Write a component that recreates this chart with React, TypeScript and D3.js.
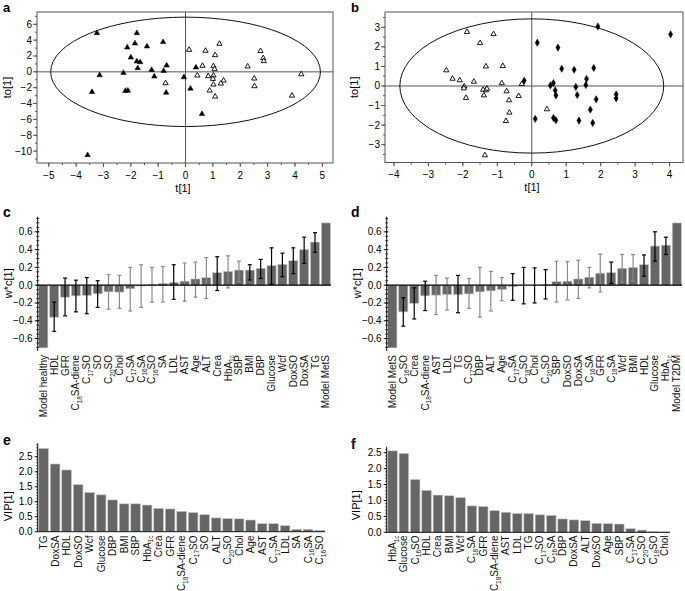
import React from "react";
import * as d3 from "d3";

const FONT = "'Liberation Sans', Arial, Helvetica, sans-serif";

// ---------- Panel a: OPLS-DA scores (MetS vs healthy) ----------
const aFilledPts: [number, number][] = [
  [-3.24, 4.89], [-1.78, 4.89], [-1.85, 3.59], [-2.13, 3.08], [-0.82, 3.76], [-1.41, 3.21],
  [-2.0, 1.81], [-1.78, 1.31], [-1.66, 1.22], [-1.75, 0.46], [-1.24, 0.25], [-0.8, 0.13],
  [-0.69, 0.8], [-2.27, -0.13], [-3.14, -0.42], [-1.14, -0.59], [-0.06, -0.68], [0.38, 0.55],
  [-3.42, -2.53], [-2.2, -2.41], [-2.11, -2.36], [-0.71, -2.62], [0.18, -2.11], [0.6, -5.32],
  [-3.58, -10.5],
];
const aOpenPts: [number, number][] = [
  [0.13, 2.78], [0.73, 2.66], [1.24, 3.54], [1.08, 2.11], [0.62, 0.76], [1.02, 0.72],
  [1.06, 0.34], [0.43, -0.46], [0.83, -0.55], [1.02, -0.46], [1.0, -0.89], [1.39, -1.1],
  [1.29, -1.48], [1.02, -1.6], [0.88, -2.36], [1.08, -3.12], [-0.73, -1.43], [2.27, 0.68],
  [2.74, 2.62], [2.84, 1.73], [2.86, 1.35], [2.51, -0.84], [2.52, -1.81], [3.89, -3.0],
  [4.23, -0.3],
];
const aEllipse = [4.93, 6.9];
const aXTicks = [-5, -4, -3, -2, -1, 0, 1, 2, 3, 4, 5];
const aYTicks = [-10, -8, -6, -4, -2, 0, 2, 4, 6];

// ---------- Panel b: OPLS-DA scores (T2DM vs MetS) ----------
const bDiamondPts: [number, number][] = [
  [1.92, 3.04], [4.03, 2.64], [0.16, 2.21], [0.76, 1.96], [0.87, 0.88], [1.23, 0.83],
  [1.8, 0.92], [1.59, 0.36], [1.57, 0.05], [1.28, -0.05], [0.63, 0.15], [0.54, 0.03],
  [0.68, -0.22], [0.7, -0.48], [1.32, -0.46], [1.87, -0.68], [2.45, -0.43], [2.45, -0.63],
  [1.7, -1.21], [0.1, -1.68], [0.63, -1.63], [0.7, -1.75], [1.37, -1.77], [1.77, -1.89],
  [-0.22, 0.27],
];
const bOpenPts: [number, number][] = [
  [-1.88, 2.76], [-1.11, 2.65], [-1.5, 2.19], [-2.48, 0.8], [-2.3, 0.37], [-2.09, 0.29],
  [-1.68, 0.22], [-1.96, -0.02], [-1.97, -0.12], [-1.91, -0.61], [-1.33, 1.0], [-0.84, 1.02],
  [-0.87, 0.14], [-1.41, -0.19], [-1.33, -0.22], [-1.3, -0.14], [-1.39, -0.48], [-0.73, -0.27],
  [-0.66, -0.73], [-0.38, -0.51], [-0.29, 0.1], [-0.65, -1.36], [-0.75, -1.79], [0.44, -1.19],
  [-1.36, -3.54],
];
const bEllipse = [3.83, 3.43];
const bXTicks = [-4, -3, -2, -1, 0, 1, 2, 3, 4];
const bYTicks = [-3, -2, -1, 0, 1, 2, 3];

// ---------- Panel c: loadings w*c[1] ----------
const cLabels = [
  "Model healthy", "HDL", "GFR", "C{18}SA-diene", "C{17}SO", "SO", "C{20}SO", "Chol", "C{17}SA",
  "C{16}SA", "C{16}SO", "SA", "LDL", "AST", "Age", "ALT", "Crea", "HbA{1c}", "SBP", "BMI", "DBP",
  "Glucose", "Wcf", "DoxSO", "DoxSA", "TG", "Model MetS",
];
const cValues = [
  -0.705, -0.36, -0.135, -0.12, -0.115, -0.097, -0.075, -0.078, -0.04, -0.01, 0.01, 0.02, 0.03,
  0.045, 0.07, 0.085, 0.14, 0.155, 0.17, 0.17, 0.19, 0.22, 0.235, 0.275, 0.4, 0.485, 0.7,
];
const cErrHigh = [
  NaN, -0.19, 0.08, 0.056, 0.086, 0.05, 0.12, 0.11, 0.2, 0.23, 0.2, 0.21, 0.23, 0.25, 0.26,
  0.31, 0.32, 0.33, 0.27, 0.23, 0.29, 0.42, 0.36, 0.42, 0.54, 0.59, NaN,
];
const cErrLow = [
  NaN, -0.52, -0.345, -0.3, -0.32, -0.25, -0.27, -0.26, -0.29, -0.25, -0.19, -0.19, -0.16,
  -0.18, -0.135, -0.15, -0.06, -0.03, 0.04, 0.06, 0.075, 0.01, 0.095, 0.13, 0.245, 0.37, NaN,
];
const cErrDark = [0, 1, 1, 1, 1, 1, 0, 0, 0, 0, 0, 0, 1, 0, 0, 0, 1, 0, 0, 1, 1, 1, 1, 1, 1, 1, 0];

// ---------- Panel d: loadings w*c[1] ----------
const dLabels = [
  "Model MetS", "C{16}SO", "Crea", "C{18}SA-diene", "AST", "LDL", "TG", "C{17}SO", "DBP", "ALT",
  "Age", "C{17}SA", "C{18}SO", "Chol", "C{20}SO", "SBP", "DoxSO", "DoxSA", "C{16}SA", "GFR",
  "C{18}SA", "Wcf", "BMI", "HDL", "Glucose", "HbA{1c}", "Model T2DM",
];
const dValues = [
  -0.705, -0.3, -0.205, -0.12, -0.112, -0.105, -0.105, -0.098, -0.075, -0.064, -0.049, -0.015,
  0.0, 0.0, 0.008, 0.04, 0.045, 0.07, 0.09, 0.135, 0.14, 0.19, 0.2, 0.23, 0.44, 0.45, 0.7,
];
const dErrHigh = [
  NaN, -0.14, -0.03, 0.045, 0.11, 0.08, 0.11, 0.075, 0.2, 0.155, 0.085, 0.13, 0.2, 0.195, 0.175,
  0.27, 0.265, 0.28, 0.2, 0.35, 0.26, 0.345, 0.345, 0.34, 0.6, 0.54, NaN,
];
const dErrLow = [
  NaN, -0.46, -0.38, -0.285, -0.33, -0.28, -0.31, -0.26, -0.36, -0.29, -0.175, -0.17, -0.21,
  -0.2, -0.155, -0.19, -0.165, -0.15, -0.03, -0.075, 0.02, 0.03, 0.045, 0.1, 0.27, 0.345, NaN,
];
const dErrDark = [0, 1, 1, 1, 0, 0, 1, 0, 0, 0, 0, 1, 1, 1, 1, 0, 0, 0, 0, 0, 1, 0, 0, 1, 1, 1, 0];

const wcTicks = [-0.6, -0.4, -0.2, 0.0, 0.2, 0.4, 0.6];

// ---------- Panel e: VIP ----------
const eLabels = [
  "TG", "DoxSA", "HDL", "DoxSO", "Wcf", "Glucose", "DBP", "BMI", "SBP", "HbA{1c}", "Crea", "GFR",
  "C{18}SA-diene", "C{17}SO", "SO", "ALT", "C{20}SO", "Chol", "Age", "AST", "C{17}SA", "LDL", "SA",
  "C{16}SA", "C{16}SO",
];
const eValues = [
  2.78, 2.26, 2.06, 1.57, 1.31, 1.23, 1.06, 0.93, 0.93, 0.89, 0.78, 0.76, 0.68, 0.64, 0.57, 0.46,
  0.44, 0.43, 0.39, 0.27, 0.27, 0.2, 0.08, 0.08, 0.045,
];

// ---------- Panel f: VIP ----------
const fLabels = [
  "HbA{1c}", "Glucose", "C{16}SO", "HDL", "Crea", "BMI", "Wcf", "C{18}SA", "GFR", "C{18}SA-diene",
  "AST", "LDL", "TG", "C{17}SO", "C{16}SA", "DBP", "DoxSA", "ALT", "DoxSO", "Age", "SBP", "C{17}SA",
  "C{20}SO", "C{18}SO", "Chol",
];
const fValues = [
  2.56, 2.48, 1.66, 1.32, 1.17, 1.15, 1.09, 0.83, 0.81, 0.68, 0.63, 0.59, 0.59, 0.55, 0.53, 0.42,
  0.39, 0.37, 0.28, 0.27, 0.26, 0.115, 0.07, 0.02, 0.01,
];
const vipTicks = [0, 0.5, 1.0, 1.5, 2.0, 2.5];

// ---------- helpers ----------
const MINUS = "\u2212";
const fmtInt = (v: number) => (v < 0 ? MINUS + Math.abs(v) : String(v));
const fmt1 = (v: number) => {
  const s = Math.abs(v).toFixed(1);
  return v < -1e-9 ? MINUS + s : s;
};

function parseLabel(s: string) {
  const out: { t: string; sub: boolean }[] = [];
  s.split(/(\{[^}]+\})/).forEach((p) => {
    if (!p) return;
    if (p.startsWith("{")) out.push({ t: p.slice(1, -1), sub: true });
    else out.push({ t: p, sub: false });
  });
  return out;
}

function RotLabel({ text, x, y }: { text: string; x: number; y: number }) {
  const segs = parseLabel(text);
  const nodes: React.ReactNode[] = [];
  let shifted = false;
  segs.forEach((s, i) => {
    const first = i === 0;
    if (s.sub) {
      nodes.push(
        <tspan key={i} fontSize={6.5} dy={first ? "0.35em" : 2.5}>
          {s.t}
        </tspan>
      );
      shifted = true;
    } else {
      nodes.push(
        <tspan key={i} dy={first ? "0.35em" : shifted ? -2.5 : undefined}>
          {s.t}
        </tspan>
      );
      shifted = false;
    }
  });
  return (
    <text
      transform={`translate(${x},${y}) rotate(-90)`}
      textAnchor="end"
      fontSize={10}
      fill="#111"
    >
      {nodes}
    </text>
  );
}

function range(a: number, b: number, step: number) {
  const r: number[] = [];
  for (let v = a; v <= b + 1e-9; v += step) r.push(Math.round(v * 1000) / 1000);
  return r;
}

// ---------- Scatter panel ----------
type ScatterProps = {
  x0: number; x1: number; y0: number; y1: number;
  xDom: [number, number]; yDom: [number, number];
  xTicks: number[]; yTicks: number[]; xMinor: number[]; yMinor: number[];
  ellipse: number[];
  series: { pts: [number, number][]; type: "triTri" | "triOpen" | "diamond" }[];
  letter: string; letterX: number; ylabX: number;
};

function ScatterPanel(p: ScatterProps) {
  const x = d3.scaleLinear().domain(p.xDom).range([p.x0, p.x1]);
  const y = d3.scaleLinear().domain(p.yDom).range([p.y1, p.y0]);
  const tri = d3.symbol().type(d3.symbolTriangle).size(13)()!;
  const triO = d3.symbol().type(d3.symbolTriangle).size(12)()!;
  const dia = d3.symbol().type(d3.symbolDiamond).size(15)()!;
  return (
    <g>
      <text x={p.letterX} y={12} fontSize={13} fontWeight="bold">{p.letter}</text>
      <rect x={p.x0} y={p.y0} width={p.x1 - p.x0} height={p.y1 - p.y0} fill="none" stroke="#555" strokeWidth={1} />
      {p.yMinor.map((v) => (
        <line key={"ym" + v} x1={p.x0 - 2} x2={p.x0} y1={y(v)} y2={y(v)} stroke="#555" />
      ))}
      {p.yTicks.map((v) => (
        <g key={"y" + v}>
          <line x1={p.x0 - 4} x2={p.x0} y1={y(v)} y2={y(v)} stroke="#555" />
          <text x={p.x0 - 5} y={y(v)} dy="0.35em" textAnchor="end" fontSize={10}>{fmtInt(v)}</text>
        </g>
      ))}
      {p.xMinor.map((v) => (
        <line key={"xm" + v} x1={x(v)} x2={x(v)} y1={p.y1} y2={p.y1 + 2} stroke="#555" />
      ))}
      {p.xTicks.map((v) => (
        <g key={"x" + v}>
          <line x1={x(v)} x2={x(v)} y1={p.y1} y2={p.y1 + 4} stroke="#555" />
          <text x={x(v)} y={p.y1 + 12} dy="0.35em" textAnchor="middle" fontSize={10}>{fmtInt(v)}</text>
        </g>
      ))}
      <text x={(p.x0 + p.x1) / 2 - 2} y={p.y1 + 25} dy="0.35em" textAnchor="middle" fontSize={11}>t[1]</text>
      <text transform={`translate(${p.ylabX},${(p.y0 + p.y1) / 2}) rotate(-90)`} textAnchor="middle" dy="0.35em" fontSize={11}>to[1]</text>
      <line x1={p.x0} x2={p.x1} y1={y(0)} y2={y(0)} stroke="#555" />
      <line x1={x(0)} x2={x(0)} y1={p.y0} y2={p.y1} stroke="#555" />
      <ellipse
        cx={x(0)} cy={y(0)}
        rx={x(p.ellipse[0]) - x(0)} ry={y(0) - y(p.ellipse[1])}
        fill="none" stroke="#111" strokeWidth={1}
      />
      {p.series.map((s, si) => (
        <g key={si}>
          {s.pts.map((pt, i) => (
            <path
              key={i}
              transform={`translate(${x(pt[0])},${y(pt[1])})`}
              d={s.type === "diamond" ? dia : s.type === "triTri" ? tri : triO}
              fill={s.type === "triOpen" ? "#fff" : "#000"}
              stroke="#000"
              strokeWidth={s.type === "triOpen" ? 0.9 : 0.5}
            />
          ))}
        </g>
      ))}
    </g>
  );
}

// ---------- Loadings bar panel ----------
type LoadProps = {
  axisX: number; xEnd: number; yTop: number; yBot: number; yDom: [number, number];
  labels: string[]; values: number[]; errLow: number[]; errHigh: number[]; errDark: number[];
  letter: string; letterX: number; ylabX: number; labelY: number;
};

function LoadingPanel(p: LoadProps) {
  const keys = p.labels.map((l, i) => i + ":" + l);
  const x = d3.scaleBand<string>().domain(keys).range([p.axisX + 0.5, p.xEnd]).paddingInner(0.16).paddingOuter(0.05);
  const y = d3.scaleLinear().domain(p.yDom).range([p.yBot, p.yTop]);
  const bw = x.bandwidth();
  const minor = range(-0.7, 0.75, 0.05);
  return (
    <g>
      <text x={p.letterX} y={p.yTop} fontSize={14} fontWeight="bold">{p.letter}</text>
      <text transform={`translate(${p.ylabX},${y(0) - 2}) rotate(-90)`} textAnchor="middle" dy="0.35em" fontSize={11}>w*c[1]</text>
      {keys.map((k, i) => {
        const v = p.values[i];
        return (
          <rect key={k} x={x(k)!} width={bw} y={Math.min(y(v), y(0))} height={Math.abs(y(v) - y(0))} fill="#666" stroke="#c8c8c8" strokeWidth={0.6} />
        );
      })}
      {keys.map((k, i) => {
        if (isNaN(p.errLow[i])) return null;
        const cx = x(k)! + bw / 2;
        const col = p.errDark[i] ? "#000" : "#8a8a8a";
        const yl = y(p.errLow[i]);
        const yh = y(p.errHigh[i]);
        return (
          <g key={"e" + k} stroke={col} strokeWidth={1.2}>
            <line x1={cx} x2={cx} y1={yl} y2={yh} />
            <line x1={cx - 2} x2={cx + 2} y1={yl} y2={yl} />
            <line x1={cx - 2} x2={cx + 2} y1={yh} y2={yh} />
          </g>
        );
      })}
      <line x1={p.axisX} x2={p.xEnd} y1={y(0)} y2={y(0)} stroke="#000" strokeWidth={1.3} />
      <line x1={p.axisX} x2={p.axisX} y1={p.yTop} y2={p.yBot} stroke="#111" strokeWidth={1} />
      {minor.map((v) => (
        <line key={"m" + v} x1={p.axisX - 1.5} x2={p.axisX + 1.5} y1={y(v)} y2={y(v)} stroke="#111" strokeWidth={0.8} />
      ))}
      {wcTicks.map((v) => (
        <g key={"t" + v}>
          <line x1={p.axisX - 3} x2={p.axisX + 1.5} y1={y(v)} y2={y(v)} stroke="#111" />
          <text x={p.axisX - 5} y={y(v)} dy="0.35em" textAnchor="end" fontSize={10}>{fmt1(v)}</text>
        </g>
      ))}
      {keys.map((k, i) => (
        <RotLabel key={"l" + k} text={p.labels[i]} x={x(k)! + bw / 2} y={p.labelY} />
      ))}
    </g>
  );
}

// ---------- VIP panel ----------
type VipProps = {
  axisX: number; xEnd: number; yTop: number; yZero: number; yMax: number;
  labels: string[]; values: number[]; letter: string; letterX: number; ylabX: number; labelY: number;
};

function VipPanel(p: VipProps) {
  const keys = p.labels.map((l, i) => i + ":" + l);
  const x = d3.scaleBand<string>().domain(keys).range([p.axisX + 0.5, p.xEnd]).paddingInner(0.16).paddingOuter(0.05);
  const y = d3.scaleLinear().domain([0, p.yMax]).range([p.yZero, p.yTop]);
  const bw = x.bandwidth();
  const minor = range(0, p.yMax, 0.1);
  return (
    <g>
      <text x={p.letterX} y={p.yTop + 2} fontSize={14} fontWeight="bold">{p.letter}</text>
      <text transform={`translate(${p.ylabX},${y(0.85)}) rotate(-90)`} textAnchor="middle" dy="0.35em" fontSize={11}>VIP[1]</text>
      {keys.map((k, i) => (
        <rect key={k} x={x(k)!} width={bw} y={y(p.values[i])} height={y(0) - y(p.values[i])} fill="#666" stroke="#c8c8c8" strokeWidth={0.6} />
      ))}
      <line x1={p.axisX} x2={p.xEnd} y1={y(0)} y2={y(0)} stroke="#111" strokeWidth={1} />
      <line x1={p.axisX} x2={p.axisX} y1={p.yTop} y2={y(0)} stroke="#111" strokeWidth={1} />
      {minor.map((v) => (
        <line key={"m" + v} x1={p.axisX - 1.5} x2={p.axisX} y1={y(v)} y2={y(v)} stroke="#111" strokeWidth={0.8} />
      ))}
      {vipTicks.map((v) => (
        <g key={"t" + v}>
          <line x1={p.axisX - 3} x2={p.axisX} y1={y(v)} y2={y(v)} stroke="#111" />
          <text x={p.axisX - 5} y={y(v)} dy="0.35em" textAnchor="end" fontSize={10}>{v.toFixed(1)}</text>
        </g>
      ))}
      {keys.map((k, i) => (
        <RotLabel key={"l" + k} text={p.labels[i]} x={x(k)! + bw / 2} y={p.labelY} />
      ))}
    </g>
  );
}

export default function App() {
  return (
    <svg width={685} height={591} viewBox="0 0 685 591" style={{ display: "block", position: "absolute", left: 0, top: 0, background: "#fff" }} fontFamily={FONT}>
      <rect x={0} y={0} width={685} height={591} fill="#fff" />
      <ScatterPanel
        x0={37} x1={333} y0={12} y1={163}
        xDom={[-5.43, 5.39]} yDom={[-11.5, 7.55]}
        xTicks={aXTicks} yTicks={aYTicks}
        xMinor={range(-5, 5, 0.5)} yMinor={range(-11, 7, 1)}
        ellipse={aEllipse}
        series={[{ pts: aOpenPts, type: "triOpen" }, { pts: aFilledPts, type: "triTri" }]}
        letter="a" letterX={3} ylabX={7}
      />
      <ScatterPanel
        x0={385} x1={683} y0={12} y1={162.5}
        xDom={[-4.26, 4.39]} yDom={[-3.91, 3.78]}
        xTicks={bXTicks} yTicks={bYTicks}
        xMinor={range(-4, 4, 0.5)} yMinor={range(-3.5, 3.5, 0.5)}
        ellipse={bEllipse}
        series={[{ pts: bOpenPts, type: "triOpen" }, { pts: bDiamondPts, type: "diamond" }]}
        letter="b" letterX={351} ylabX={354}
      />
      <LoadingPanel
        axisX={37.7} xEnd={331} yTop={216.7} yBot={351} yDom={[-0.74, 0.77]}
        labels={cLabels} values={cValues} errLow={cErrLow} errHigh={cErrHigh} errDark={cErrDark}
        letter="c" letterX={3} ylabX={8} labelY={355}
      />
      <LoadingPanel
        axisX={386.7} xEnd={682} yTop={216.7} yBot={351} yDom={[-0.74, 0.77]}
        labels={dLabels} values={dValues} errLow={dErrLow} errHigh={dErrHigh} errDark={dErrDark}
        letter="d" letterX={351} ylabX={357} labelY={355}
      />
      <VipPanel
        axisX={37.7} xEnd={325} yTop={443.3} yZero={531.7} yMax={2.95}
        labels={eLabels} values={eValues} letter="e" letterX={3} ylabX={8} labelY={535.5}
      />
      <VipPanel
        axisX={386.7} xEnd={670} yTop={446.7} yZero={532.3} yMax={2.69}
        labels={fLabels} values={fValues} letter="f" letterX={351} ylabX={356} labelY={535.5}
      />
    </svg>
  );
}
